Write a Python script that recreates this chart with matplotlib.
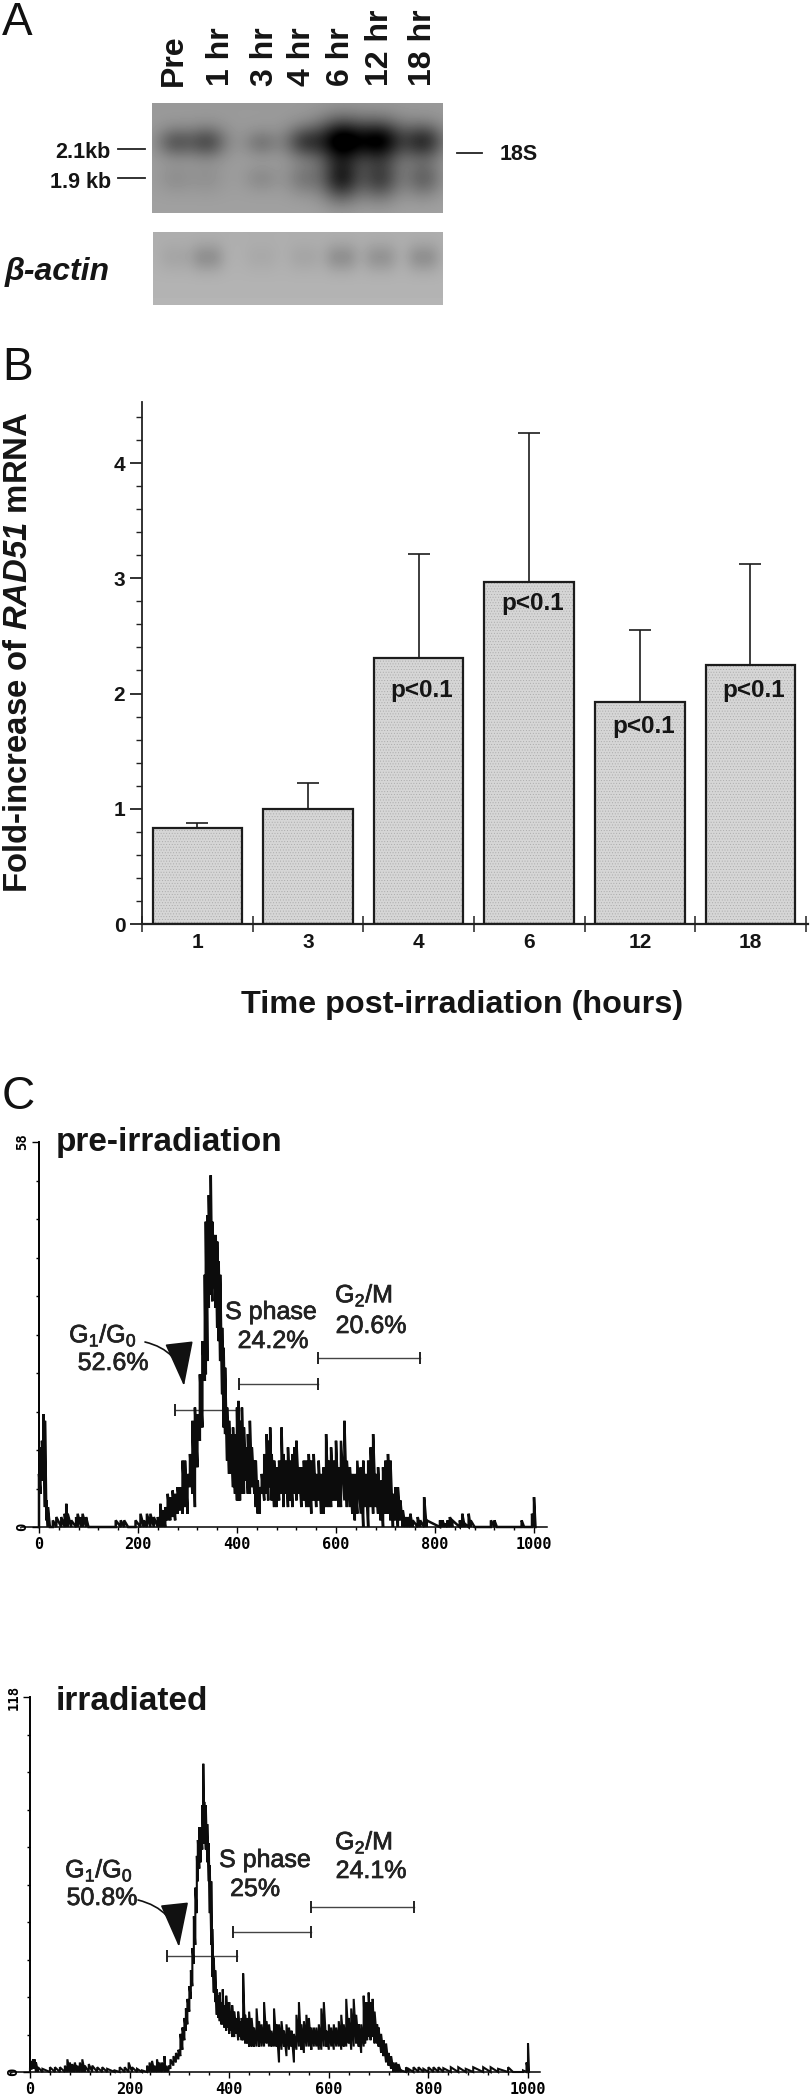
import numpy as np
import matplotlib
matplotlib.use('Agg')
import matplotlib.pyplot as plt
import matplotlib.patheffects as pe
from matplotlib.ticker import MultipleLocator, FixedLocator

plt.rcParams['font.family'] = ['Liberation Sans', 'DejaVu Sans']
plt.rcParams['mathtext.fontset'] = 'custom'
plt.rcParams['mathtext.rm'] = 'Liberation Sans'
plt.rcParams['mathtext.bfit'] = 'Liberation Sans:italic:bold'
plt.rcParams['hatch.linewidth'] = 0.35

W, H = 812, 2100

# panel A
lanes = ['Pre', '1 hr', '3 hr', '4 hr', '6 hr', '12 hr', '18 hr']
lane_label_x = [174, 221, 265, 302, 341, 380, 423]
lane_x = [175, 207, 261, 304, 341, 380, 423]
band_21kb = [0.30, 0.36, 0.17, 0.40, 0.80, 0.72, 0.52]
band_19kb = [0.07, 0.06, 0.09, 0.17, 0.60, 0.44, 0.28]
actin = [0.03, 0.09, 0.02, 0.03, 0.09, 0.08, 0.09]

# panel B
hours = ['1', '3', '4', '6', '12', '18']
fold = [0.83, 1.00, 2.31, 2.97, 1.93, 2.25]
fold_top = [0.88, 1.22, 3.21, 4.26, 2.55, 3.12]
p_text_y = [None, None, 2.03, 2.78, 1.71, 2.03]

# panel C, pre-irradiation trace
pre_ch = [0, 3, 6, 9, 12, 15, 18, 22, 28, 35, 45, 52, 55, 58, 65, 75, 78, 85, 88, 95, 100, 150, 155, 165, 172, 180,
          195, 205, 212, 218, 225, 232, 240, 245, 250, 255, 260, 265, 270, 275, 280, 285, 290, 295, 300, 305, 310,
          315, 320, 325, 330, 335, 337, 340, 343, 347, 350, 353, 357, 360, 363, 366, 370, 373, 376, 380, 384, 388,
          392, 396, 400, 403, 406, 410, 414, 418, 422, 426, 430, 435, 438, 442, 446, 450, 455, 460, 463, 467, 470,
          475, 480, 485, 490, 494, 498, 503, 507, 512, 516, 520, 525, 530, 535, 540, 545, 550, 555, 560, 565, 570,
          575, 580, 585, 590, 595, 600, 605, 610, 617, 622, 628, 633, 638, 643, 650, 655, 660, 665, 670, 675, 680,
          685, 690, 695, 700, 705, 710, 715, 720, 725, 730, 735, 740, 745, 750, 755, 765, 770, 778, 783, 810, 815,
          820, 825, 830, 835, 850, 855, 860, 868, 872, 880, 910, 913, 920, 925, 975, 980, 992, 996, 1000, 1003]
pre_lo = [0, 5, 7, 8, 3, 1, 0, 0, 0, 0, 0, 0, 0, 0, 0, 0, 0, 0, 0, 0, 0, 0, 0, 0, 0, 0,
          0, 0, 0, 0, 0, 0, 0, 0, 0, 0, 1, 1, 1.5, 1, 2, 2.5, 2, 3, 2, 6, 5,
          3, 9, 13, 15, 22, 23, 25, 33, 35, 34, 36, 33, 30, 28, 25, 20, 15, 14, 10, 8, 8,
          6, 5, 4, 4, 4, 5, 5, 7, 5, 5, 6, 5, 3, 2, 2, 5, 4, 5, 4, 6, 4,
          3, 3, 4, 5, 3, 5, 3, 4, 3, 5, 4, 5, 3, 4, 3, 3, 2, 4, 3, 4, 2,
          2, 3, 3, 3, 4, 4, 3, 3, 4, 3, 3, 2, 1, 2, 2, 0, 3, 0, 3, 2, 3,
          2, 1, 0, 2, 2, 1, 0, 1, 0, 1, 0, 0, 0, 0, 0, 0, 0, 0, 0, 0, 0,
          0, 0, 0, 0, 0, 0, 0, 0, 0, 0, 0, 0, 0, 0, 0, 0, 0, 0, 0, 0]
pre_hi = [8, 12, 13, 17, 16, 4, 3, 0, 1, 1.5, 1.5, 2, 3.5, 2, 1, 1.5, 2, 1.5, 2, 1.5, 0, 0, 1, 1, 1, 0,
          1, 2, 1, 2, 2, 1.5, 1.5, 3.5, 2.5, 3, 5, 4.5, 5.5, 5, 6, 6, 10, 10, 8, 11, 16,
          18, 17, 23, 28, 38, 46, 47, 50, 53, 46, 44, 44, 43, 40, 38, 30, 27, 24, 18, 16, 14,
          15, 14, 18, 19, 16, 18, 15, 12, 14, 16, 12, 10, 10, 7, 6, 8, 11, 14, 13, 15, 11,
          10, 9, 10, 15, 11, 10, 12, 10, 11, 12, 13, 9, 9, 10, 10, 11, 10, 11, 8, 10, 8,
          9, 14, 10, 12, 10, 13, 9, 13, 16, 10, 9, 8, 8, 10, 9, 10, 8, 10, 12, 14, 8,
          9, 7, 9, 10, 11, 10, 5, 6, 6, 4, 2.5, 1.5, 1.5, 2, 1, 1.5, 1, 4.5, 1, 1, 1,
          0.5, 1, 1.5, 1, 1, 2, 0.5, 2, 1, 0, 0, 1, 1, 0, 1, 0, 0, 2, 4.5, 0]

# panel C, irradiated trace
irr_ch = [0, 3, 6, 9, 12, 16, 25, 40, 50, 60, 70, 75, 80, 85, 90, 95, 100, 105, 110, 118, 125, 135, 145, 155, 170,
          180, 190, 198, 205, 215, 225, 235, 240, 245, 250, 255, 260, 265, 270, 272, 278, 282, 288, 293, 298, 302,
          306, 310, 313, 316, 320, 323, 326, 329, 332, 335, 337, 340, 343, 346, 348, 350, 353, 356, 359, 361, 364,
          366, 369, 372, 375, 378, 381, 384, 387, 390, 394, 397, 400, 403, 406, 410, 414, 418, 422, 425, 428, 432,
          436, 440, 445, 450, 455, 460, 465, 470, 475, 480, 485, 490, 495, 500, 505, 510, 515, 520, 525, 530, 535,
          540, 545, 550, 555, 560, 565, 570, 575, 580, 585, 590, 595, 600, 605, 610, 615, 620, 625, 630, 635, 640,
          645, 650, 655, 660, 665, 670, 673, 677, 680, 684, 688, 692, 697, 700, 705, 710, 715, 720, 725, 730, 735,
          740, 745, 755, 760, 770, 780, 790, 800, 810, 820, 830, 845, 860, 875, 890, 910, 925, 940, 960, 970, 990,
          997, 1000, 1002]
irr_lo = [0, 1, 1, 1, 0, 0, 0, 0, 0, 0, 0, 0, 0, 0, 0, 0, 0, 0, 0, 0, 0, 0, 0, 0, 0,
          0, 0, 0, 0, 0, 0, 0, 0, 0, 0, 0, 0, 0, 0, 0, 0, 1, 2, 3, 4, 5,
          7, 10, 13, 15, 19, 23, 27, 34, 40, 50, 60, 64, 66, 70, 72, 72, 70, 66, 60, 50, 40,
          30, 25, 22, 18, 17, 16, 15, 15, 14, 13, 14, 12, 13, 11, 11, 12, 10, 11, 10, 10, 9,
          9, 8, 8, 8, 8, 8, 8, 8, 9, 8, 8, 8, 8, 3, 7, 8, 5, 7, 8, 3, 7,
          8, 7, 6, 8, 8, 7, 8, 8, 7, 7, 8, 8, 7, 8, 7, 8, 8, 7, 8, 8, 9,
          7, 8, 9, 8, 6, 8, 9, 10, 11, 10, 11, 9, 9, 8, 6, 5, 3, 2, 1, 0, 0,
          0, 0, 0, 0, 0, 0, 0, 0, 0, 0, 0, 0, 0, 0, 0, 0, 0, 0, 0, 0, 0,
          0, 0, 0]
irr_hi = [1, 3.5, 4, 4, 3, 1.5, 1, 1.5, 1.5, 1.5, 2, 4, 3, 2.5, 3, 2, 3, 4, 2, 2.5, 2, 1.5, 1.5, 1, 0.5,
          1.5, 1.5, 3, 1.5, 1, 0.5, 2, 3, 3.5, 2, 4, 3, 3, 5, 2, 2, 4, 5, 6, 7, 12,
          14, 17, 20, 23, 27, 32, 39, 49, 58, 68, 73, 77, 77, 84, 97, 85, 84, 78, 72, 65, 60,
          45, 36, 32, 26, 24, 25, 22, 26, 21, 24, 22, 22, 19, 21, 19, 17, 19, 16, 17, 31, 18,
          17, 19, 17, 14, 20, 16, 15, 22, 16, 15, 13, 20, 15, 15, 16, 13, 15, 14, 13, 12, 18,
          22, 15, 16, 18, 17, 14, 14, 14, 15, 20, 22, 13, 15, 14, 15, 14, 16, 18, 15, 23, 17,
          20, 23, 18, 15, 15, 24, 22, 22, 25, 22, 23, 19, 15, 14, 12, 10, 9, 6, 5, 3, 3,
          2.5, 0.5, 1.5, 1, 1.5, 1.5, 1, 1.5, 1.5, 1.5, 1.2, 1.5, 1.5, 1, 1.5, 1.5, 1.5, 1, 1.5, 0, 0.5,
          3, 9, 0]

# gates: start, end, height in counts
pre_gates = [(275, 405, 17.6), (405, 563, 21.5), (563, 770, 25.5)]
irr_gates = [(275, 416, 36.4), (407, 564, 44), (564, 771, 52)]


def axes_px(left, top, right, bottom):
    return fig.add_axes([left / W, 1 - bottom / H, (right - left) / W, (bottom - top) / H])


fig = plt.figure(figsize=(W / 100, H / 100), dpi=100, facecolor='white')

# pixel overlay for annotations
over = fig.add_axes([0, 0, 1, 1], zorder=10)
over.set_xlim(0, W)
over.set_ylim(H, 0)
over.axis('off')
over.patch.set_alpha(0)

for letter, yy in [('A', 23), ('B', 368), ('C', 1097)]:
    over.text(2, yy, letter, fontsize=33, va='center', ha='left', color='#111111')


# ---- A: blots
def blot(left, top, right, bottom, bands, bg):
    xx, yy = np.meshgrid(np.arange(left, right), np.arange(top, bottom))
    img = bg + 0.03 * (yy - top) / (bottom - top)
    for x0, y0, amp, sx, sy in bands:
        img = img - amp * np.exp(-(xx - x0) ** 2 / (2 * sx ** 2) - (yy - y0) ** 2 / (2 * sy ** 2))
    ax = axes_px(left, top, right, bottom)
    ax.imshow(np.clip(img, 0, 1), cmap='gray', vmin=0, vmax=1, aspect='auto', interpolation='bilinear')
    ax.axis('off')


main_bands = []
actin_bands = []
for i in range(len(lanes)):
    grow = band_21kb[i]
    main_bands.append((lane_x[i], 143 - 4 * grow, band_21kb[i] * 0.75, 11 + 8 * grow, 8 + 9 * grow))
    main_bands.append((lane_x[i], 178, band_19kb[i] * 0.75, 12 + 3 * grow, 8 + 10 * grow))
    actin_bands.append((lane_x[i] - 7, 257, actin[i], 8, 10))
    actin_bands.append((lane_x[i] + 7, 257, actin[i], 8, 10))
blot(152, 103, 443, 213, main_bands, 0.60)
blot(153, 232, 443, 305, actin_bands, 0.68)

for name, xx in zip(lanes, lane_label_x):
    over.text(xx, 86, name, rotation=90, fontsize=23, fontweight='bold', ha='center', va='bottom', color='#151515')
over.text(111, 152, '2.1kb', fontsize=15.5, fontweight='bold', ha='right', va='center', color='#151515')
over.text(111, 182, '1.9 kb', fontsize=15.5, fontweight='bold', ha='right', va='center', color='#151515')
over.text(500, 154, '18S', fontsize=15.5, fontweight='bold', ha='left', va='center', color='#151515')
over.plot([118, 145], [149, 149], color='#222222', lw=1.3)
over.plot([118, 145], [178, 178], color='#222222', lw=1.3)
over.plot([457, 482], [153, 153], color='#222222', lw=1.3)
over.text(5, 272, '\u03b2-actin', fontsize=23, fontweight='bold', fontstyle='italic', ha='left', va='center',
          color='#151515')

# ---- B: bars
axb = axes_px(142, 402, 808, 924)
pos = np.arange(1, len(hours) + 1)
axb.bar(pos, fold, width=0.81, color='#d6d6d6', edgecolor='#a8a8a8', hatch='......', linewidth=0, zorder=2)
axb.bar(pos, fold, width=0.81, fill=False, edgecolor='#1c1c1c', linewidth=1.6, zorder=3)
axb.errorbar(pos, fold, yerr=[np.zeros(len(fold)), np.array(fold_top) - np.array(fold)], fmt='none', ecolor='#1c1c1c',
             elinewidth=1.2, capsize=8, capthick=1.2, zorder=1)
for x, y in zip(pos, p_text_y):
    if y is not None:
        axb.text(x + 0.03, y, 'p<0.1', fontsize=17.5, fontweight='bold', ha='center', va='center', color='#151515',
                 zorder=4)
axb.set_xlim(0.5, 6.52)
axb.set_ylim(0, 4.53)
for side in ['top', 'right']:
    axb.spines[side].set_visible(False)
axb.spines['left'].set_linewidth(1.3)
axb.spines['bottom'].set_linewidth(1.6)
axb.spines['left'].set_color('#222222')
axb.spines['bottom'].set_color('#222222')
axb.xaxis.set_major_locator(FixedLocator(np.arange(0.5, 7, 1)))
axb.set_xticklabels([])
axb.xaxis.set_tick_params(which='major', direction='inout', length=11, width=1.1, color='#222222')
axb.yaxis.set_major_locator(MultipleLocator(1))
axb.yaxis.set_minor_locator(MultipleLocator(0.2))
axb.tick_params(axis='y', which='major', length=9, width=1.3, color='#222222', pad=3)
axb.tick_params(axis='y', which='minor', length=4, width=1, color='#222222')
for lab in axb.get_yticklabels():
    lab.set_fontsize(15)
    lab.set_fontweight('bold')
    lab.set_color('#151515')
for x, name in zip(pos, hours):
    axb.annotate(name, (x, 0), xytext=(0, -19), textcoords='offset pixels', fontsize=15, fontweight='bold', ha='center',
                 va='center', color='#151515')
over.text(19, 652, r'Fold-increase of $\mathbfit{RAD51}$ mRNA', rotation=90, fontsize=23.7, fontweight='bold',
          ha='center', va='center', color='#151515')
over.text(462, 1005, 'Time post-irradiation (hours)', fontsize=23.3, fontweight='bold', ha='center', va='center',
          color='#151515')


# ---- C: histograms
def histogram(left_x, right_x, top, base, xmin, xmax, ymax, ch, lo, hi, gates, lw):
    per_ch = (right_x - left_x) / 1000
    ax = axes_px(left_x + xmin * per_ch, top, left_x + xmax * per_ch, base)
    xs = np.repeat(ch, 2)
    ys = np.column_stack((lo, hi)).ravel()
    ax.plot(xs, ys, color='#0c0c0c', lw=lw, solid_joinstyle='miter', clip_on=False, zorder=3)
    for start, end, y in gates:
        ax.plot([start, end], [y, y], color='#444444', lw=1, zorder=2)
        ax.plot([start, end], [y, y], ls='none', marker='|', ms=9, mew=1.4, color='#222222', zorder=2)
    ax.set_xlim(xmin, xmax)
    ax.set_ylim(0, ymax)
    ax.patch.set_alpha(0)
    for side in ['top', 'right']:
        ax.spines[side].set_visible(False)
    ax.spines['left'].set_position(('data', 0))
    ax.spines['left'].set_linewidth(1.4)
    ax.spines['bottom'].set_linewidth(1.1)
    ax.xaxis.set_major_locator(MultipleLocator(200))
    ax.xaxis.set_minor_locator(MultipleLocator(40))
    ax.yaxis.set_major_locator(FixedLocator([0, ymax]))
    ax.yaxis.set_minor_locator(MultipleLocator(ymax / 10))
    ax.tick_params(axis='x', which='major', length=4, width=1, pad=3, labelsize=11)
    ax.tick_params(axis='x', which='minor', length=2, width=1)
    ax.tick_params(axis='y', which='major', length=5, width=1, pad=2, labelsize=10)
    ax.tick_params(axis='y', which='minor', length=2, width=1)
    ax.set_xticks([0, 200, 400, 600, 800, 1000])
    for lab in ax.get_xticklabels():
        lab.set_family('DejaVu Sans Mono')
        lab.set_fontweight('bold')
    ax.set_yticks([0, ymax])
    for lab in ax.get_yticklabels():
        lab.set_family('DejaVu Sans Mono')
        lab.set_fontweight('bold')
        lab.set_rotation(90)
        lab.set_va('center')
    return ax


histogram(39, 534, 1142, 1527, -35, 1026, 58, pre_ch, pre_lo, pre_hi, pre_gates, 1.8)
histogram(30, 528, 1697, 2072, -40, 1024, 118, irr_ch, irr_lo, irr_hi, irr_gates, 1.5)

big = dict(fontsize=24, fontweight='bold', ha='left', va='center', color='#151515')
over.text(56, 1143, 'pre-irradiation', **big)
over.text(56, 1701, 'irradiated', **big)

g1g0 = r'G$_{\mathrm{1}}$/G$_{\mathrm{0}}$'
g2m = r'G$_{\mathrm{2}}$/M'
small_labels = [(103, 1335, g1g0), (113, 1363, '52.6%'), (271, 1312, 'S phase'), (273, 1341, '24.2%'),
                (364, 1295, g2m), (371, 1326, '20.6%'), (99, 1870, g1g0), (102, 1898, '50.8%'),
                (265, 1860, 'S phase'), (255, 1889, '25%'), (364, 1842, g2m), (371, 1871, '24.1%')]
thick = [pe.withStroke(linewidth=0.5, foreground='#222222')]
for x, y, s in small_labels:
    over.text(x, y, s, fontsize=18, ha='center', va='center', color='#222222', path_effects=thick)

for start, tip in [((145, 1342), (184, 1386)), ((138, 1900), (179, 1947))]:
    over.annotate('', xy=tip, xytext=start,
                  arrowprops=dict(arrowstyle='-|>,head_length=2.2,head_width=0.7', connectionstyle='arc3,rad=-0.35',
                                  color='#111111', lw=1.2, shrinkA=0, shrinkB=0, mutation_scale=13))

fig.savefig('out.png', dpi=100, facecolor='white')
